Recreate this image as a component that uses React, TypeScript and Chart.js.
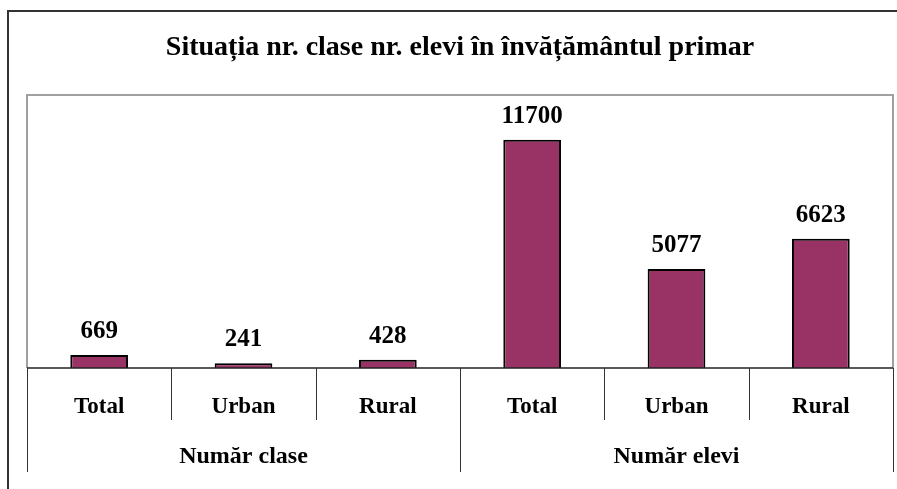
import React, { useEffect, useRef } from "react";
import { Chart, registerables } from "chart.js";

Chart.register(...registerables);

const TITLE = "Situația nr. clase nr. elevi în învățământul primar";
const CATEGORIES = ["Total", "Urban", "Rural", "Total", "Urban", "Rural"];
const GROUPS = ["Număr clase", "Număr elevi"];
const GROUP_SIZE = 3;
const VALUES = [669, 241, 428, 11700, 5077, 6623];
const Y_MAX = 14000;

const FONT = '"Liberation Serif", "Times New Roman", serif';

const decorPlugin = {
  id: "decor",
  afterDraw(chart: any) {
    const ctx = chart.ctx as CanvasRenderingContext2D;
    const area = chart.chartArea;
    const xs = chart.scales.x;
    const W = chart.width;
    const H = chart.height;
    ctx.save();

    // outer frame
    ctx.strokeStyle = "#333333";
    ctx.lineWidth = 2;
    ctx.beginPath();
    ctx.moveTo(8, H);
    ctx.lineTo(8, 11);
    ctx.lineTo(W, 11);
    ctx.stroke();

    // title
    ctx.fillStyle = "#000";
    ctx.font = `bold 28px ${FONT}`;
    ctx.textAlign = "center";
    ctx.textBaseline = "alphabetic";
    ctx.fillText(TITLE, (area.left + area.right) / 2, 55);

    // plot border (gray)
    ctx.strokeStyle = "#a0a0a0";
    ctx.lineWidth = 2;
    ctx.beginPath();
    ctx.moveTo(area.left, area.bottom);
    ctx.lineTo(area.left, area.top);
    ctx.lineTo(area.right, area.top);
    ctx.lineTo(area.right, area.bottom);
    ctx.stroke();

    // baseline
    ctx.strokeStyle = "#222";
    ctx.lineWidth = 1.5;
    ctx.beginPath();
    ctx.moveTo(area.left, area.bottom);
    ctx.lineTo(area.right, area.bottom);
    ctx.stroke();

    // separators
    const n = CATEGORIES.length;
    const step = xs.getPixelForValue(1) - xs.getPixelForValue(0);
    ctx.lineWidth = 1;
    ctx.strokeStyle = "#333";
    for (let i = 0; i <= n; i++) {
      const x = Math.round(xs.getPixelForValue(0) - step / 2 + i * step) + 0.5;
      const isGroup = i % GROUP_SIZE === 0;
      ctx.beginPath();
      ctx.moveTo(x, area.bottom);
      ctx.lineTo(x, isGroup ? area.bottom + 104 : area.bottom + 52);
      ctx.stroke();
    }

    // category labels
    ctx.fillStyle = "#000";
    ctx.font = `bold 23px ${FONT}`;
    ctx.textAlign = "center";
    CATEGORIES.forEach((c, i) => {
      ctx.fillText(c, xs.getPixelForValue(i), area.bottom + 45);
    });
    // group labels
    ctx.font = `bold 24px ${FONT}`;
    GROUPS.forEach((g, gi) => {
      const x0 = xs.getPixelForValue(gi * GROUP_SIZE);
      const x1 = xs.getPixelForValue(gi * GROUP_SIZE + GROUP_SIZE - 1);
      ctx.fillText(g, (x0 + x1) / 2, area.bottom + 95);
    });

    // data labels
    ctx.font = `bold 25px ${FONT}`;
    const meta = chart.getDatasetMeta(0);
    meta.data.forEach((bar: any, i: number) => {
      ctx.fillText(String(VALUES[i]), bar.x, bar.y - 17);
    });

    ctx.restore();
  },
};

export default function App() {
  const ref = useRef<HTMLCanvasElement>(null);
  useEffect(() => {
    if (!ref.current) return;
    const chart = new Chart(ref.current, {
      type: "bar",
      data: {
        labels: CATEGORIES,
        datasets: [
          {
            data: VALUES,
            backgroundColor: "#993366",
            borderColor: "#000000",
            borderWidth: 2,
            barPercentage: 0.4,
            categoryPercentage: 1,
          },
        ],
      },
      options: {
        responsive: false,
        animation: false,
        events: [],
        layout: { padding: { left: 27, top: 95, right: 4, bottom: 121 } },
        plugins: {
          legend: { display: false },
          title: { display: false },
          tooltip: { enabled: false },
        },
        scales: {
          x: { display: false, offset: true },
          y: { display: false, min: 0, max: Y_MAX },
        },
      },
      plugins: [decorPlugin],
    });
    return () => chart.destroy();
  }, []);
  return (
    <div style={{ position: "absolute", left: 0, top: 0, width: 897, height: 489, background: "#fff" }}>
      <canvas ref={ref} width={897} height={489} />
    </div>
  );
}
